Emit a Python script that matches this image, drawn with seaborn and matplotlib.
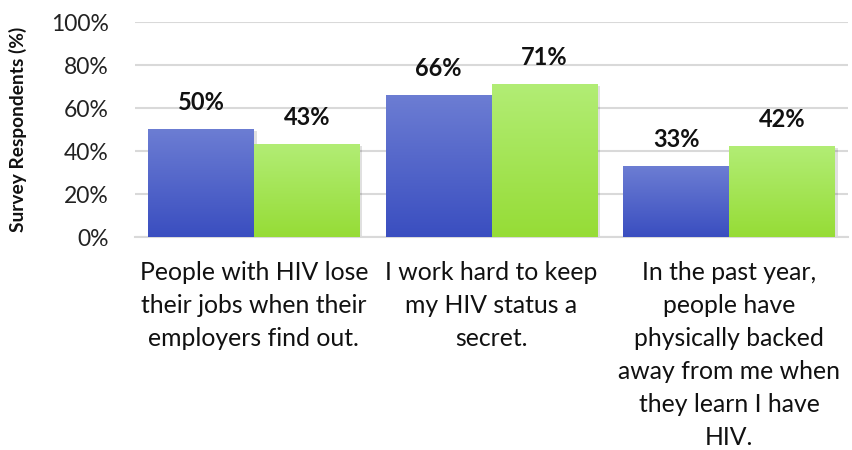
import numpy as np
import pandas as pd
import matplotlib
matplotlib.use("Agg")
import matplotlib.pyplot as plt
import seaborn as sns
from matplotlib.colors import LinearSegmentedColormap

# Survey statements (x categories) and the two respondent groups
categories = [
    "People with HIV lose\ntheir jobs when their\nemployers find out.",
    "I work hard to keep\nmy HIV status a\nsecret.",
    "In the past year,\npeople have\nphysically backed\naway from me when\nthey learn I have\nHIV.",
]
series_names = ["Group 1", "Group 2"]
group1_values = [50, 66, 33]
group2_values = [43, 71, 42]
y_ticks = [0, 20, 40, 60, 80, 100]
y_tick_labels = ["0%", "20%", "40%", "60%", "80%", "100%"]

df = pd.DataFrame({
    "statement": categories * 2,
    "series": [series_names[0]] * 3 + [series_names[1]] * 3,
    "value": group1_values + group2_values,
})

sns.set_theme(style="white")
plt.rcParams["font.family"] = ["Lato", "DejaVu Sans"]

fig = plt.figure(figsize=(8.52, 4.5), dpi=100)
ax = fig.add_axes([0.1585, 0.4733, 0.8368, 0.4777])

palette = {series_names[0]: "#4A5EC8", series_names[1]: "#A6E655"}
sns.barplot(data=df, x="statement", y="value", hue="series", palette=palette,
            order=categories, hue_order=series_names, width=0.89,
            legend=False, ax=ax, zorder=3, linewidth=0)

# vertical gradient fills for each series
gradients = {
    0: LinearSegmentedColormap.from_list("g1", ["#3A4EC0", "#6C7DD3"]),
    1: LinearSegmentedColormap.from_list("g2", ["#96DC36", "#B2ED75"]),
}
grad = np.linspace(0, 1, 256).reshape(-1, 1)
for si, container in enumerate(ax.containers):
    for bar in container:
        x0, y0 = bar.get_x(), bar.get_y()
        w, h = bar.get_width(), bar.get_height()
        # soft shadow to the right
        ax.add_patch(plt.Rectangle((x0 + 0.012, y0), w, h - 0.6,
                                   facecolor="#000000", alpha=0.12,
                                   edgecolor="none", zorder=2.5))
        bar.set_facecolor("none")
        ax.imshow(grad, extent=[x0, x0 + w, y0, y0 + h], origin="lower",
                  cmap=gradients[si], aspect="auto", zorder=3.2)
    ax.bar_label(container, labels=[f"{v:.0f}%" for v in container.datavalues],
                 padding=11, fontsize=17, fontweight="bold", color="#111111",
                 zorder=4)

ax.set_xlim(-0.5, 2.5)
ax.set_ylim(0, 100)
ax.set_yticks(y_ticks)
ax.set_yticklabels(y_tick_labels, fontsize=16.5, color="#222222")
ax.yaxis.grid(True, color="#D9D9D9", linewidth=1.5, zorder=0)
ax.set_axisbelow(True)
for side in ["top", "right", "left"]:
    ax.spines[side].set_visible(False)
ax.spines["bottom"].set_color("#D9D9D9")
ax.spines["bottom"].set_linewidth(1.5)
ax.tick_params(axis="both", length=0)
ax.tick_params(axis="y", pad=19)
ax.tick_params(axis="x", pad=17)
ax.set_xticks(range(len(categories)))
ax.set_xticklabels(categories, fontsize=17.8, color="#111111", linespacing=1.53)
ax.set_xlabel("")
ax.set_ylabel("Survey Respondents (%)", fontsize=13.8, fontweight="bold",
              color="#111111", labelpad=17)

fig.savefig("out.png", dpi=100)
